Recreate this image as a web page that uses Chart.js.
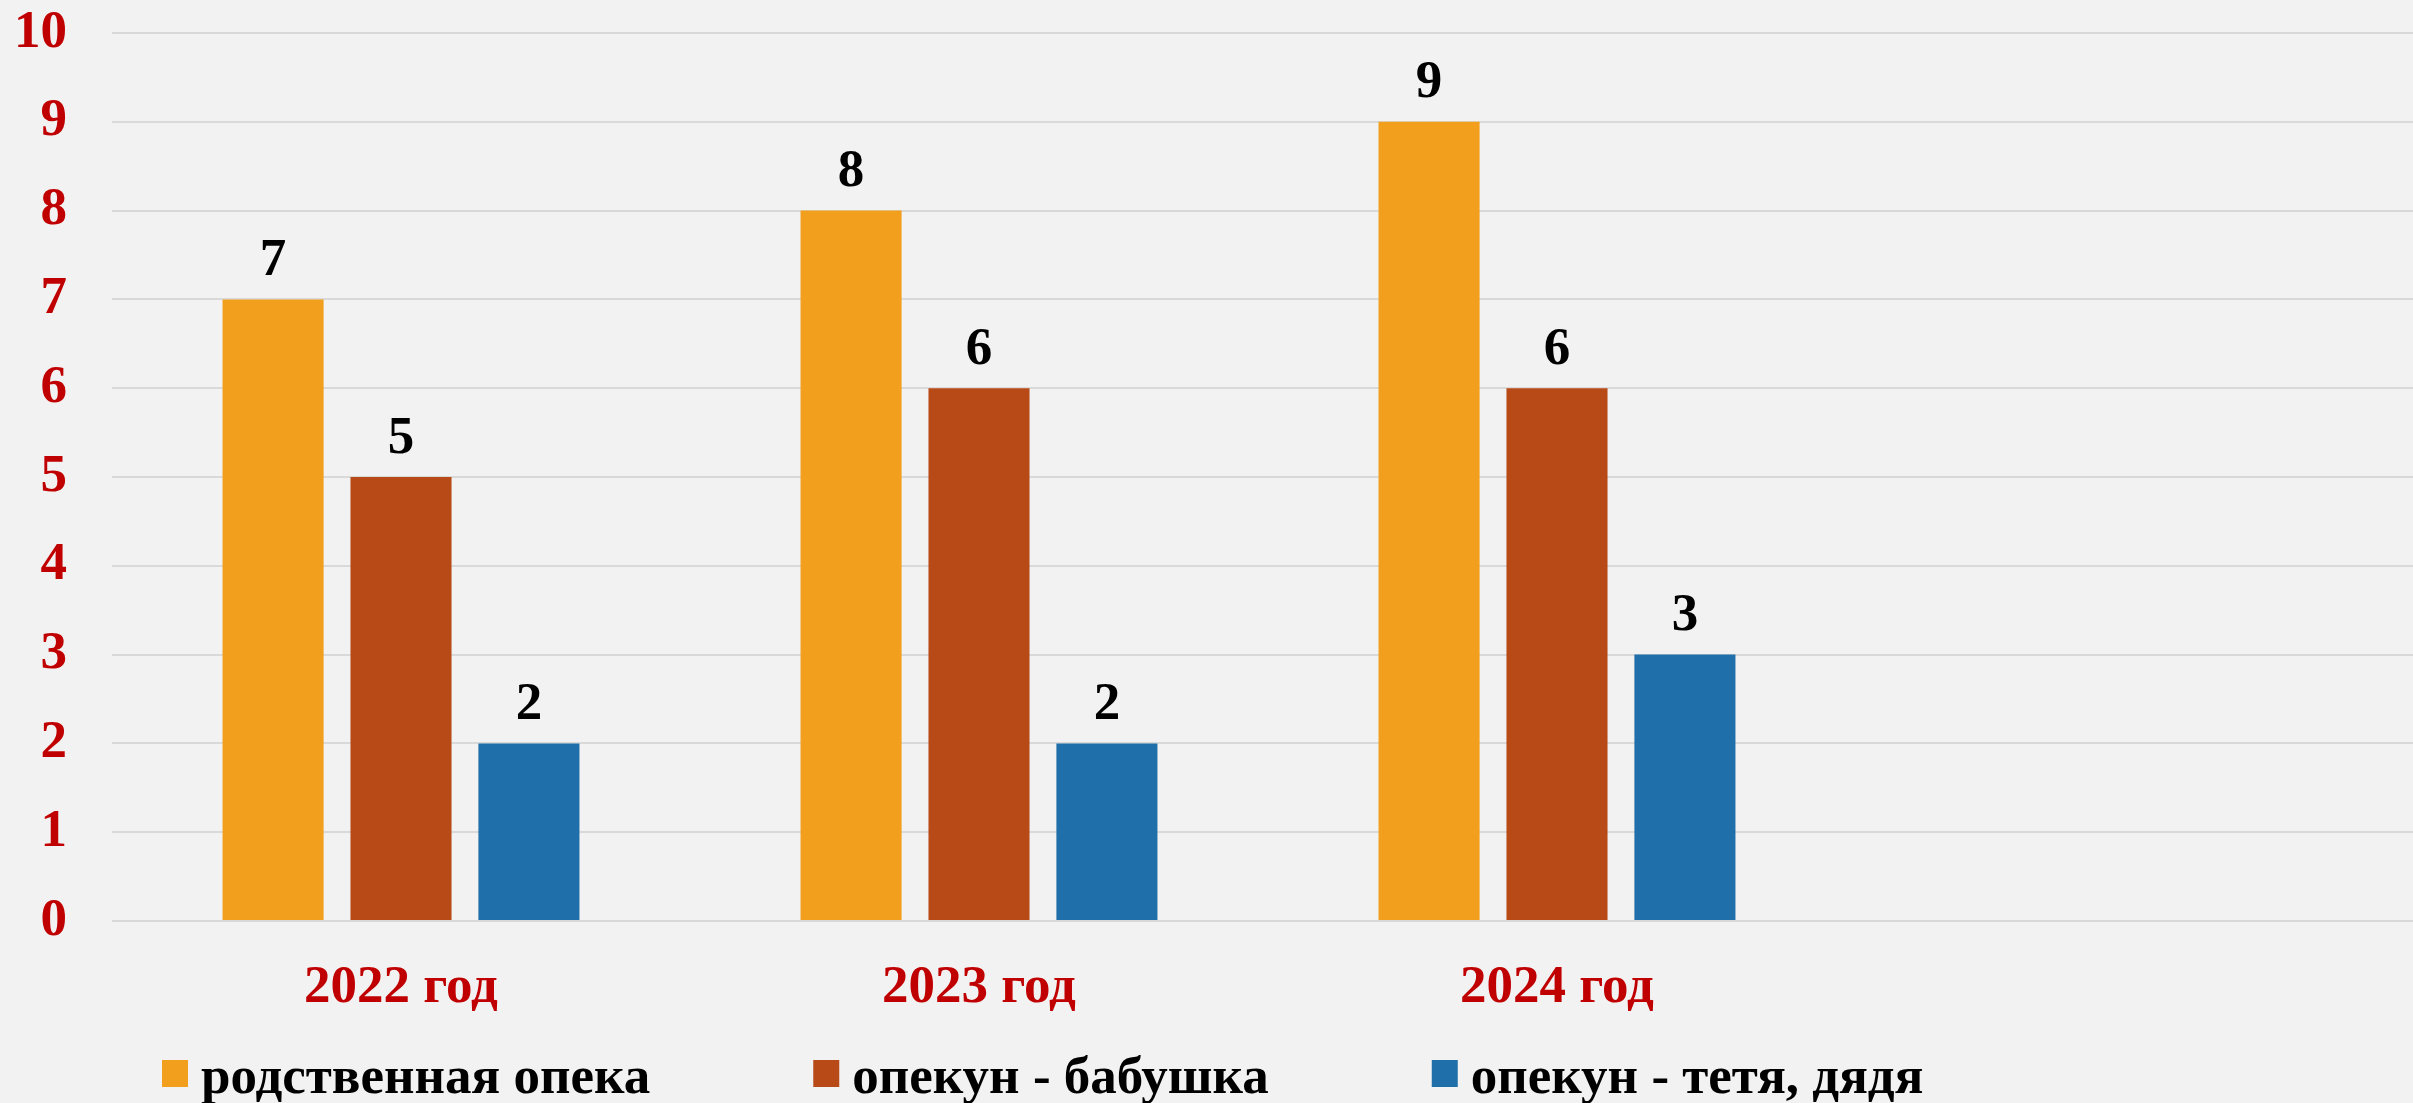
<!DOCTYPE html>
<html lang="ru">
<head>
<meta charset="utf-8">
<title>Опека 2022–2024</title>
<script src="https://cdn.jsdelivr.net/npm/chart.js@4.4.1/dist/chart.umd.min.js"></script>
<style>
  html, body { margin:0; padding:0; background:#f2f2f2; overflow:hidden; }
  #wrap { width:2413px; height:1103px; overflow:hidden; }
</style>
</head>
<body>
<div id="wrap"><canvas id="chart" width="2424" height="1103"></canvas></div>
<script>
/* ---------- data ---------- */
const categories  = ['2022 год', '2023 год', '2024 год', ''];
const seriesNames = ['родственная опека', 'опекун - бабушка', 'опекун - тетя, дядя'];
const kinship     = [7, 8, 9, null];
const grandmother = [5, 6, 6, null];
const auntUncle   = [2, 2, 3, null];
const colors      = ['#f19f1d', '#b84a18', '#1f70aa'];
const yTicks      = [0, 1, 2, 3, 4, 5, 6, 7, 8, 9, 10];

const FONT = '"Liberation Serif", "Times New Roman", serif';
const FSIZE = 53;

/* ---------- value labels above bars ---------- */
const valueLabels = {
  id: 'valueLabels',
  afterDatasetsDraw(chart) {
    const ctx = chart.ctx;
    ctx.save();
    ctx.font = `bold ${FSIZE}px ${FONT}`;
    ctx.fillStyle = '#000';
    ctx.textAlign = 'center';
    ctx.textBaseline = 'middle';
    chart.data.datasets.forEach((ds, i) => {
      chart.getDatasetMeta(i).data.forEach((bar, j) => {
        const v = ds.data[j];
        if (v == null) return;
        ctx.fillText(String(v), bar.x, bar.y - 38);
      });
    });
    ctx.restore();
  }
};

/* ---------- legend row (drawn by hand, spacing like the original) ---------- */
const legendRow = {
  id: 'legendRow',
  afterDraw(chart) {
    const ctx = chart.ctx;
    let x = 162;
    ctx.save();
    ctx.font = `bold ${FSIZE}px ${FONT}`;
    ctx.textBaseline = 'alphabetic';
    ctx.textAlign = 'left';
    chart.data.datasets.forEach(ds => {
      ctx.fillStyle = ds.backgroundColor;
      ctx.fillRect(x, 1060, 26, 27);
      ctx.fillStyle = '#000';
      ctx.fillText(ds.label, x + 39, 1093);
      x += 39 + ctx.measureText(ds.label).width + 163;
    });
    ctx.restore();
  }
};

/* ---------- chart ---------- */
new Chart(document.getElementById('chart'), {
  type: 'bar',
  data: {
    labels: categories,
    datasets: [kinship, grandmother, auntUncle].map((d, i) => ({
      label: seriesNames[i],
      data: d,
      backgroundColor: colors[i],
      categoryPercentage: 0.664,
      barPercentage: 0.79
    }))
  },
  options: {
    responsive: false,
    animation: false,
    layout: { padding: { left: 11, right: 0, top: 33, bottom: 81 } },
    plugins: { legend: { display: false }, tooltip: { enabled: false } },
    scales: {
      x: {
        grid: { display: false, drawTicks: false },
        border: { display: false },
        ticks: { color: '#c00000', font: { family: FONT, size: FSIZE, weight: 'bold' }, padding: 36, maxRotation: 0 },
        afterFit: s => { s.height = 101; s.paddingLeft = 0; s.paddingRight = 0; }
      },
      y: {
        min: 0, max: 10,
        afterBuildTicks: s => { s.ticks = yTicks.map(v => ({ value: v })); },
        grid: { color: '#d9d9d9', lineWidth: 2, drawTicks: false },
        border: { display: false },
        ticks: { color: '#c00000', font: { family: FONT, size: FSIZE, weight: 'bold' }, padding: 45 },
        afterFit: s => { s.width = 101; s.paddingTop = 0; s.paddingBottom = 0; }
      }
    }
  },
  plugins: [valueLabels, legendRow]
});
</script>
</body>
</html>
